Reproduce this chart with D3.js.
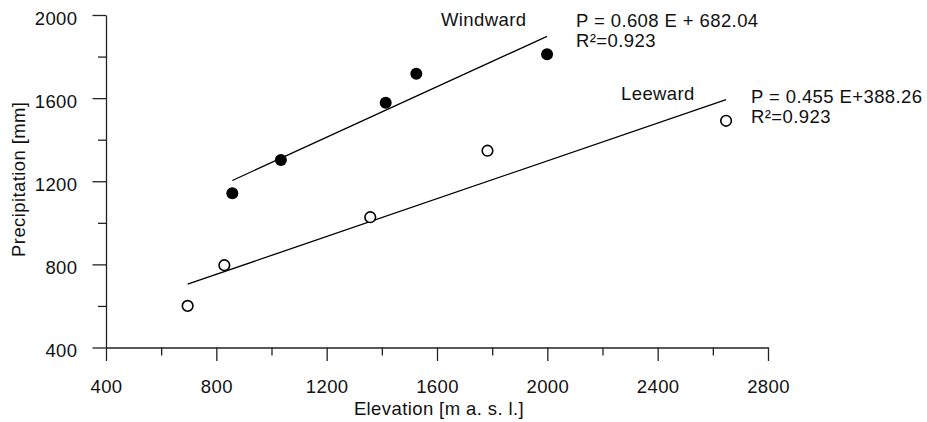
<!DOCTYPE html>
<html>
<head>
<meta charset="utf-8">
<script src="https://cdn.jsdelivr.net/npm/d3@7"></script>
<style>
  body { margin: 0; background: #fff; }
  text { font-family: "Liberation Sans", Arial, sans-serif; font-size: 18.5px; letter-spacing: 0.4px; fill: #111; }
  .axis path, .axis line { stroke: #222; stroke-width: 1.3; }
</style>
</head>
<body>
<script>
// elevation (m a.s.l.) / precipitation (mm)
const windwardE = [858, 1034, 1414, 1525, 1999];
const windwardP = [1142, 1302, 1578, 1717, 1811];
const leewardE = [696, 829, 1358, 1783, 2648];
const leewardP = [600, 796, 1027, 1347, 1491];

// regression fits shown on the chart
const windwardFit = { slope: 0.608, intercept: 682.04 };
const leewardFit = { slope: 0.455, intercept: 388.26 };

const xTicks = [400, 800, 1200, 1600, 2000, 2400, 2800];
const xMinor = [600, 1000, 1400, 1800, 2200, 2600];
const yTicks = [400, 800, 1200, 1600, 2000];
const yMinor = [600, 1000, 1400, 1800];

const margin = { top: 15, right: 159, bottom: 74.5, left: 106 };
const width = 927 - margin.left - margin.right;
const height = 422 - margin.top - margin.bottom;

let x = d3.scaleLinear().domain([400, 2800]).range([0, width]);
let y = d3.scaleLinear().domain([400, 2000]).range([height, 0]);

let svg = d3.select("body").append("svg")
    .attr("width", 927)
    .attr("height", 422)
  .append("g")
    .attr("transform", "translate(" + margin.left + "," + margin.top + ")");

// minor ticks first, then the labelled axes over them
svg.append("g")
    .attr("class", "axis")
    .attr("transform", "translate(0," + height + ")")
    .call(d3.axisBottom(x).tickValues(xMinor).tickSize(8).tickSizeOuter(0).tickFormat(""))
    .call(g => g.select(".domain").remove());
svg.append("g")
    .attr("class", "axis")
    .call(d3.axisLeft(y).tickValues(yMinor).tickSize(8).tickSizeOuter(0).tickFormat(""))
    .call(g => g.select(".domain").remove());

let xAxis = svg.append("g")
    .attr("class", "axis")
    .attr("transform", "translate(0," + height + ")")
    .call(d3.axisBottom(x).tickValues(xTicks).tickSize(13.5).tickSizeOuter(0).tickFormat(d3.format("d")));
xAxis.selectAll("text")
    .attr("y", 45)
    .attr("dy", 0)
    .style("font-size", null);

let yAxis = svg.append("g")
    .attr("class", "axis")
    .call(d3.axisLeft(y).tickValues(yTicks).tickSize(13.5).tickSizeOuter(0).tickFormat(d3.format("d")));
yAxis.selectAll("text")
    .attr("x", -28.5)
    .attr("dy", 9);

d3.selectAll(".axis text")
    .attr("font-size", null)
    .attr("font-family", null)
    .attr("fill", null);

svg.append("text")
    .attr("x", width / 2 + 2)
    .attr("y", 399.5)
    .style("text-anchor", "middle")
    .text("Elevation [m a. s. l.]");

svg.append("text")
    .attr("transform", "rotate(-90)")
    .attr("x", -(height / 2) + 2)
    .attr("y", -81)
    .style("text-anchor", "middle")
    .text("Precipitation [mm]");

// regression lines across each series' elevation range
function fitLine(es, fit) {
  let lo = d3.min(es), hi = d3.max(es);
  svg.append("line")
      .attr("stroke", "#000")
      .attr("stroke-width", 1.3)
      .attr("x1", x(lo))
      .attr("y1", y(fit.slope * lo + fit.intercept))
      .attr("x2", x(hi))
      .attr("y2", y(fit.slope * hi + fit.intercept));
}
fitLine(windwardE, windwardFit);
fitLine(leewardE, leewardFit);

svg.selectAll(".windward")
    .data(d3.zip(windwardE, windwardP))
  .enter().append("circle")
    .attr("class", "windward")
    .attr("r", 6)
    .attr("cx", d => x(d[0]))
    .attr("cy", d => y(d[1]))
    .style("fill", "#000");

svg.selectAll(".leeward")
    .data(d3.zip(leewardE, leewardP))
  .enter().append("circle")
    .attr("class", "leeward")
    .attr("r", 5.3)
    .attr("cx", d => x(d[0]))
    .attr("cy", d => y(d[1]))
    .style("fill", "#fff")
    .style("stroke", "#000")
    .style("stroke-width", 1.6);

// labels and equations
let labels = [
  { t: "Windward", x: 441, y: 26 },
  { t: "P = 0.608 E + 682.04", x: 576, y: 26.5 },
  { t: "R\u00b2=0.923", x: 576, y: 46.5 },
  { t: "Leeward", x: 621, y: 100 },
  { t: "P = 0.455 E+388.26", x: 751, y: 103 },
  { t: "R\u00b2=0.923", x: 751, y: 122.5 }
];
d3.select("svg").selectAll(".note")
    .data(labels)
  .enter().append("text")
    .attr("class", "note")
    .attr("x", d => d.x)
    .attr("y", d => d.y)
    .text(d => d.t);
</script>
</body>
</html>
